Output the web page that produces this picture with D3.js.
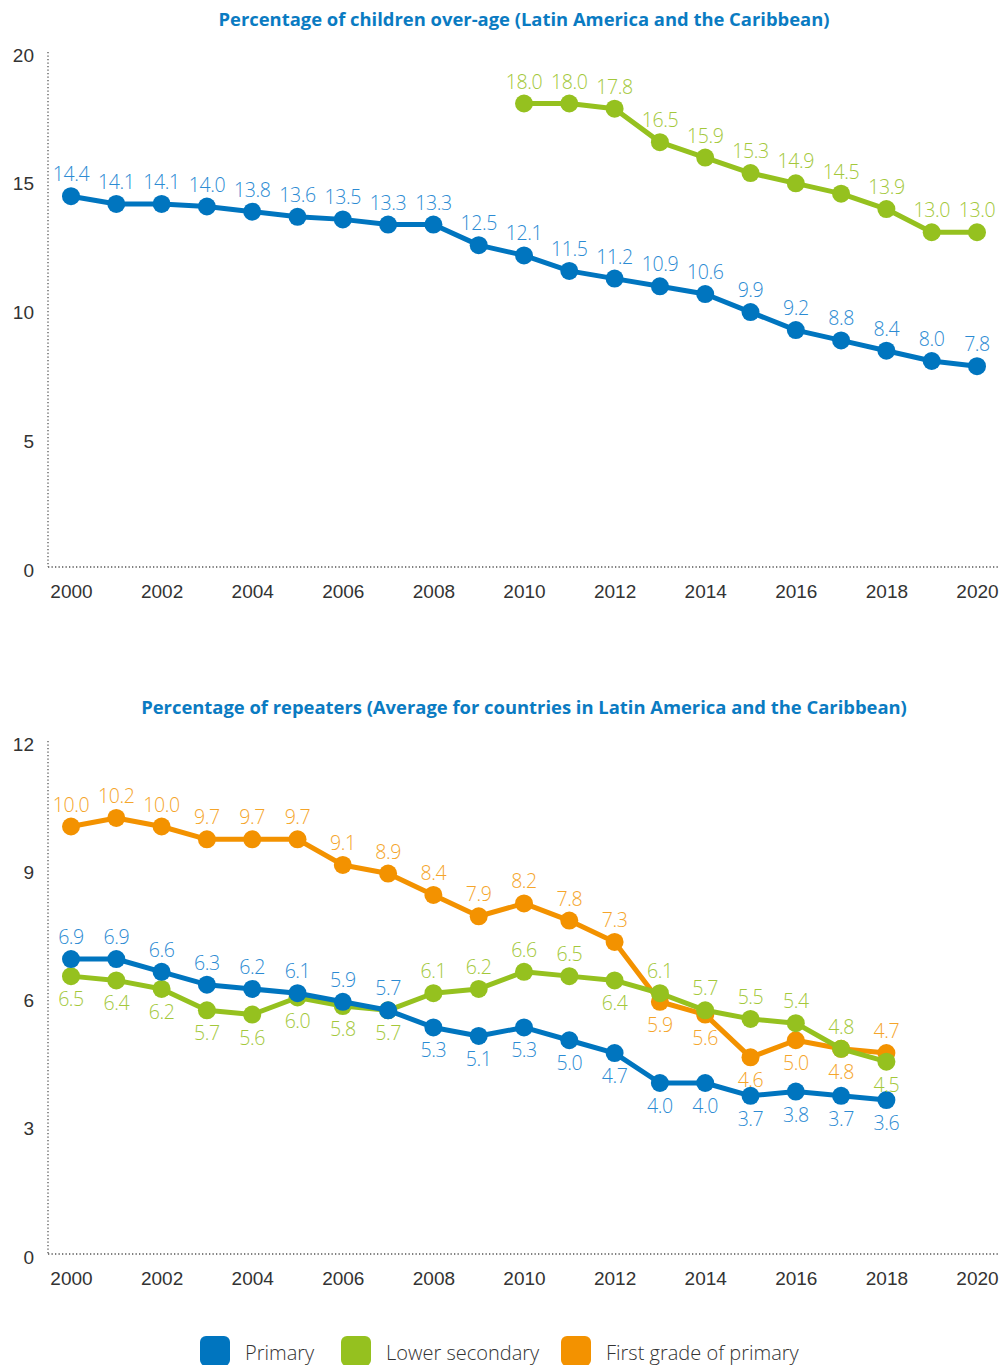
<!DOCTYPE html>
<html><head><meta charset="utf-8">
<script src="https://cdn.jsdelivr.net/npm/d3@7"></script>
<style>
body{margin:0;background:#fff;}
svg{display:block;font-family:"Open Sans","Noto Sans",sans-serif;}
</style></head><body>
<script>
// ---- data ----
const years1 = d3.range(2000, 2021);
const overAgePrimary = [14.4,14.1,14.1,14.0,13.8,13.6,13.5,13.3,13.3,12.5,12.1,11.5,11.2,10.9,10.6,9.9,9.2,8.8,8.4,8.0,7.8];
const overAgeSecYears = d3.range(2010, 2021);
const overAgeSecondary = [18.0,18.0,17.8,16.5,15.9,15.3,14.9,14.5,13.9,13.0,13.0];

const years2 = d3.range(2000, 2019);
const repPrimary = [6.9,6.9,6.6,6.3,6.2,6.1,5.9,5.7,5.3,5.1,5.3,5.0,4.7,4.0,4.0,3.7,3.8,3.7,3.6];
const repSecondary = [6.5,6.4,6.2,5.7,5.6,6.0,5.8,5.7,6.1,6.2,6.6,6.5,6.4,6.1,5.7,5.5,5.4,4.8,4.5];
const repFirstGrade = [10.0,10.2,10.0,9.7,9.7,9.7,9.1,8.9,8.4,7.9,8.2,7.8,7.3,5.9,5.6,4.6,5.0,4.8,4.7];
// label placement: "a" above, "b" below
const repPrimaryPos   = "aaaaaaaabbbbbbbbbbb".split("");
const repSecondaryPos = "bbbbbbbbaaaabaaaaab".split("");
const repFirstPos     = "aaaaaaaaaaaaabbbbba".split("");

const xTicks = d3.range(2000, 2021, 2);
const yTicks1 = [0,5,10,15,20];
const yTicks2 = [0,3,6,9,12];
const seriesNames = ["Primary","Lower secondary","First grade of primary"];

const title1 = "Percentage of children over-age (Latin America and the Caribbean)";
const title2 = "Percentage of repeaters (Average for countries in Latin America and the Caribbean)";

const C = {blue:"#0075bf", green:"#95c11f", orange:"#f39200"};
const L = {blue:"#2b8bd3", green:"#a3c83a", orange:"#f5a52a"};

const W = 1005, H = 1365;
const svg = d3.select("body").append("svg").attr("width", W).attr("height", H);

const x = d3.scaleLinear().domain([2000, 2020]).range([71, 977]);

function panel(y, yTicks, title, titleY) {
  const g = svg.append("g");
  g.append("text").attr("x", 524).attr("y", titleY).attr("text-anchor","middle")
    .attr("font-size", 18.4).attr("font-weight", 700).attr("fill", "#0a7bc2")
    .text(title);
  const y0 = y.range()[0], y1 = y.range()[1];
  g.append("line").attr("x1",48).attr("x2",48).attr("y1",y1).attr("y2",y0)
    .attr("stroke","#555").attr("stroke-width",1.3).attr("stroke-dasharray","1.3,2.2");
  g.append("line").attr("x1",48).attr("x2",1000).attr("y1",y0).attr("y2",y0)
    .attr("stroke","#555").attr("stroke-width",1.3).attr("stroke-dasharray","1.3,2.2");
  const ya = d3.axisLeft(y).tickValues(yTicks).tickSize(0).tickPadding(0);
  const gy = g.append("g").attr("transform","translate(34,3)").call(ya);
  gy.select(".domain").remove();
  gy.selectAll("text").attr("font-size",19).attr("fill","#333").attr("font-family","inherit").attr("font-weight",300);
  const xa = d3.axisBottom(x).tickValues(xTicks).tickFormat(d3.format("d")).tickSize(0).tickPadding(0);
  const gx = g.append("g").attr("transform",`translate(0,${y0+17})`).call(xa);
  gx.select(".domain").remove();
  gx.selectAll("text").attr("font-size",19).attr("fill","#333").attr("font-family","inherit").attr("font-weight",300);
  return g;
}

function series(g, y, yrs, vals, color, pos) {
  const data = yrs.map((yr,i)=>({yr, v:vals[i], p: pos ? pos[i] : "a"}));
  g.append("path").datum(data)
    .attr("d", d3.line().x(d=>x(d.yr)).y(d=>y(d.v)))
    .attr("fill","none").attr("stroke",color).attr("stroke-width",5).attr("stroke-linejoin","round");
  g.selectAll(null).data(data).enter().append("circle")
    .attr("cx",d=>x(d.yr)).attr("cy",d=>y(d.v)).attr("r",9).attr("fill",color);
  return data;
}
function labels(g, y, data, lcolor) {
  g.selectAll(null).data(data).enter().append("text")
    .attr("x",d=>x(d.yr)).attr("y",d=>d.p==="a" ? y(d.v)-15 : y(d.v)+30)
    .attr("text-anchor","middle").attr("font-size",19.5).attr("font-weight",300)
    .attr("fill",lcolor).attr("letter-spacing",-0.4).text(d=>d3.format(".1f")(d.v));
}

// Panel 1
const y1 = d3.scaleLinear().domain([0,20]).range([567,52]);
const g1 = panel(y1, yTicks1, title1, 26);
const d1a = series(g1, y1, overAgeSecYears, overAgeSecondary, C.green);
const d1b = series(g1, y1, years1, overAgePrimary, C.blue);
labels(g1, y1, d1a, L.green);
labels(g1, y1, d1b, L.blue);

// Panel 2
const y2 = d3.scaleLinear().domain([0,12]).range([1254,741]);
const g2 = panel(y2, yTicks2, title2, 714);
const d2c = series(g2, y2, years2, repFirstGrade, C.orange, repFirstPos);
const d2b = series(g2, y2, years2, repSecondary, C.green, repSecondaryPos);
const d2a = series(g2, y2, years2, repPrimary, C.blue, repPrimaryPos);
labels(g2, y2, d2c, L.orange);
labels(g2, y2, d2b, L.green);
labels(g2, y2, d2a, L.blue);

// Legend
const legColors = [C.blue, C.green, C.orange];
const legX = [200, 341, 561];
const lg = svg.append("g");
seriesNames.forEach((n,i)=>{
  lg.append("rect").attr("x",legX[i]).attr("y",1336).attr("width",30).attr("height",30)
    .attr("rx",6).attr("fill",legColors[i]);
  lg.append("text").attr("x",legX[i]+45).attr("y",1360).attr("font-size",20).attr("font-weight",300)
    .attr("fill","#333").text(n);
});
</script>
</body></html>
